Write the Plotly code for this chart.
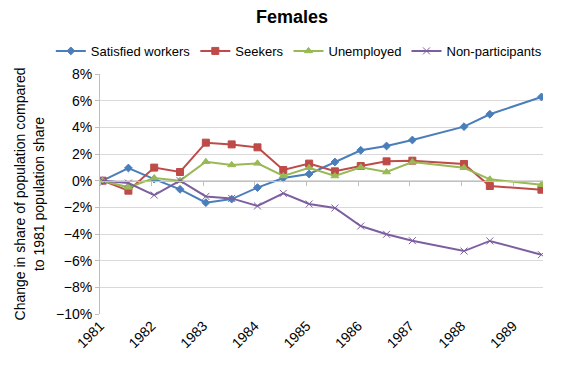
import plotly.graph_objects as go

periods = [1981.0, 1981.5, 1982.0, 1982.5, 1983.0, 1983.5, 1984.0, 1984.5,
           1985.0, 1985.5, 1986.0, 1986.5, 1987.0, 1988.0, 1988.5, 1989.5]
years = [1981, 1982, 1983, 1984, 1985, 1986, 1987, 1988, 1989]

satisfied = [0.0, 0.95, 0.12, -0.65, -1.65, -1.38, -0.52, 0.2, 0.5, 1.4, 2.28, 2.6, 3.05, 4.05, 4.98, 6.28]
seekers = [0.0, -0.75, 0.98, 0.65, 2.85, 2.72, 2.5, 0.8, 1.28, 0.7, 1.1, 1.45, 1.5, 1.25, -0.4, -0.68]
unemployed = [0.0, -0.5, 0.2, 0.0, 1.42, 1.18, 1.3, 0.35, 0.97, 0.35, 1.0, 0.65, 1.4, 0.97, 0.1, -0.3]
nonpart = [0.0, -0.18, -1.08, 0.0, -1.18, -1.33, -1.9, -0.95, -1.75, -2.05, -3.4, -4.02, -4.5, -5.28, -4.52, -5.55]

series = [
    ("Satisfied workers", satisfied, "#4A7EBB", "diamond", 6),
    ("Seekers", seekers, "#BE4B48", "square", 7),
    ("Unemployed", unemployed, "#98B954", "triangle-up", 7),
    ("Non-participants", nonpart, "#7D5FA0", "x-thin-open", 7),
]

offset = 0.05
x_range = [periods[0] - offset, periods[-1] + 0.03]
tickvals = [y - offset for y in years]
ticktext = [str(y) for y in years]

fig = go.Figure()
for name, vals, color, sym, size in series:
    fig.add_trace(go.Scatter(
        x=periods, y=vals, name=name, mode="lines+markers",
        line=dict(color=color, width=2),
        marker=dict(symbol=sym, size=size, color=color,
                    line=dict(color=color, width=1)),
    ))

# invisible trace to activate the zero-line axis
fig.add_trace(go.Scatter(x=[periods[0]], y=[0], xaxis="x2", showlegend=False,
                         mode="markers", marker=dict(opacity=0), hoverinfo="skip"))

font = "Liberation Sans, Arial, sans-serif"
fig.update_layout(
    width=576, height=373,
    margin=dict(l=92, r=41, t=66, b=66.5, autoexpand=False),
    paper_bgcolor="white", plot_bgcolor="white",
    font=dict(family=font, size=14, color="black"),
    title=dict(text="<b>Females</b>", x=0.493, xref="container", xanchor="center",
               y=0.978, yref="container", yanchor="middle",
               font=dict(size=18, family=font, color="black")),
    legend=dict(orientation="h", x=-0.111, xref="paper", xanchor="left",
                y=1.096, yref="paper", yanchor="middle",
                font=dict(size=13), itemwidth=30, tracegroupgap=0,
                bgcolor="rgba(0,0,0,0)"),
    xaxis=dict(range=x_range, tickmode="array", tickvals=tickvals, ticktext=ticktext,
               tickangle=-45, showgrid=False, zeroline=False, showline=False,
               ticks="", tickfont=dict(size=14)),
    xaxis2=dict(range=x_range, overlaying="x", anchor="free", position=10 / 18,
                tickmode="array", tickvals=tickvals, showticklabels=False,
                showline=True, linecolor="#BFBFBF", linewidth=1,
                ticks="outside", ticklen=4, tickcolor="#BFBFBF",
                showgrid=False, zeroline=False),
    yaxis=dict(range=[-10, 8], dtick=2, tick0=0, ticksuffix="%",
               showgrid=True, gridcolor="#D9D9D9", gridwidth=1,
               zeroline=False, showline=True, linecolor="#BFBFBF", linewidth=1,
               ticks="outside", ticklen=4, tickcolor="#BFBFBF",
               tickfont=dict(size=14),
               title=dict(text="Change in share of population compared<br>to 1981 population share",
                          font=dict(size=14), standoff=8)),
)

fig.write_html("out.html")
